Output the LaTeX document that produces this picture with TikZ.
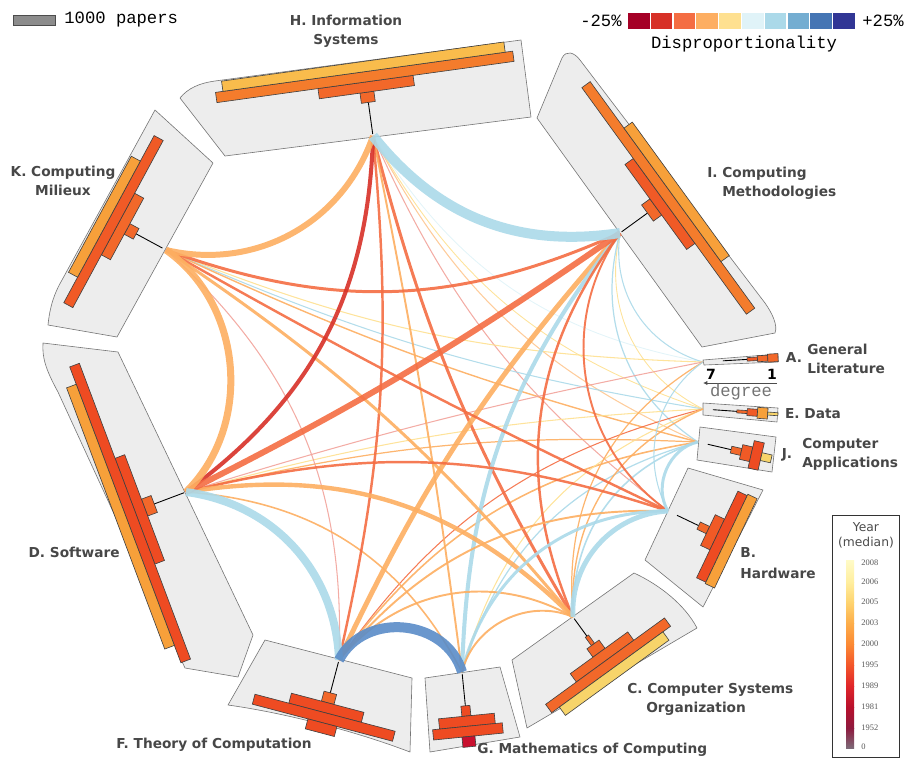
\documentclass[tikz,border=0pt]{standalone}
\usepackage{fontspec}
\setmainfont{DejaVu Sans}
\newfontfamily\ttlegend{Liberation Mono}
\newfontfamily\yrfont{Liberation Serif}
\usetikzlibrary{arrows.meta}

% panel + text colours
\definecolor{panelgray}{HTML}{EDEDED}
\definecolor{panelline}{HTML}{767676}
\definecolor{titlegray}{HTML}{474747}
% disproportionality scale
\definecolor{dA}{HTML}{A50026}
\definecolor{dB}{HTML}{D73027}
\definecolor{dC}{HTML}{F46D43}
\definecolor{dD}{HTML}{FDAE61}
\definecolor{dE}{HTML}{FEE090}
\definecolor{dF}{HTML}{E0F3F8}
\definecolor{dG}{HTML}{ABD9E9}
\definecolor{dH}{HTML}{74ADD1}
\definecolor{dI}{HTML}{4575B4}
\definecolor{dJ}{HTML}{313695}
\definecolor{dDeep}{HTML}{5A8CC8}
\definecolor{dPink}{HTML}{F2A39B}
% median year of the bars
\definecolor{yr08}{HTML}{F7D46A}
\definecolor{yr05}{HTML}{F9BC4C}
\definecolor{yr03}{HTML}{F7A03A}
\definecolor{yr00}{HTML}{F47C2C}
\definecolor{yr97}{HTML}{F2682A}
\definecolor{yr96}{HTML}{F05A26}
\definecolor{yr95}{HTML}{EE4B22}
\definecolor{yr81}{HTML}{C8102E}
% year legend stops
\definecolor{gA}{HTML}{FFFBC8}
\definecolor{gB}{HTML}{FFEE9E}
\definecolor{gC}{HTML}{FED470}
\definecolor{gD}{HTML}{FDAE4A}
\definecolor{gE}{HTML}{FC8A34}
\definecolor{gF}{HTML}{F3562A}
\definecolor{gG}{HTML}{E0262A}
\definecolor{gH}{HTML}{B8102C}
\definecolor{gI}{HTML}{8E1A3E}
\definecolor{gJ}{HTML}{7D6A78}

% one histogram bar: degree, papers (px), colour
\newcommand{\degbar}[3]{%
  \filldraw[bar, fill=#3] ({70-(#1-1)*10.3-5.15},{-0.5*(#2)}) rectangle ++(10.3,#2);}

\begin{document}
\begin{tikzpicture}[
    x=0.02cm, y=-0.02cm,
    panel/.style={
        fill=panelgray,
        draw=panelline,
        line width=0.35pt,
        line join=round
    },
    bar/.style={
        draw=black!75,
        line width=0.35pt
    },
    stem/.style={
        draw=black,
        line width=0.5pt
    },
    link/.style={
        draw opacity=0.9,
        line cap=butt
    },
    title/.style={
        font=\fontsize{7.8}{10.8}\selectfont\bfseries,
        text=titlegray,
        align=center,
        inner sep=0pt
    },
    mono/.style={
        font=\ttlegend\fontsize{9.8}{11}\selectfont,
        inner sep=0pt
    },
    yeartick/.style={
        font=\yrfont\fontsize{4.8}{5}\selectfont,
        text=black!65,
        anchor=west,
        inner sep=0pt
    }
]
\useasboundingbox (0,0) rectangle (910,762);

% hubs on the ring
\coordinate (H) at (373,136);
\coordinate (I) at (620,233);
\coordinate (A) at (703,362);
\coordinate (E) at (703,409);
\coordinate (J) at (698,442);
\coordinate (B) at (668,511);
\coordinate (C) at (573,617);
\coordinate (G) at (462,672);
\coordinate (F) at (339,660);
\coordinate (D) at (186,492);
\coordinate (K) at (166,250);

% panels
\draw[panel] (225,156) -- (180,98) .. controls (188,88) and (200,83) .. (215,81)
    -- (521,40) -- (531,117) -- cycle;
\draw[panel] (537,118) -- (562,58) .. controls (566,50) and (574,52) .. (580,60)
    -- (765,303) .. controls (772,313) and (778,325) .. (775,333) -- (702,347) -- cycle;
\draw[panel] (155,110) -- (213,163) -- (117,337) -- (48,325)
    .. controls (50,305) and (55,292) .. (62,280) -- cycle;
\draw[panel] (43,343) -- (118,352) -- (253,635) -- (238,677) -- (185,668)
    -- (58,392) .. controls (46,370) and (42,358) .. cycle;
\draw[panel] (265,640) -- (412,678) -- (410,752)
    .. controls (355,731) and (285,713) .. (228,705) -- cycle;
\draw[panel] (425,678) -- (500,667) -- (520,737) -- (430,752) -- cycle;
\draw[panel] (512,660) -- (634,573) .. controls (660,585) and (685,605) .. (697,628)
    -- (527,728) -- cycle;
\draw[panel] (688,468) -- (763,490) -- (703,607) -- (645,560) -- cycle;
\draw[panel] (700,427) -- (776,437) -- (772,472) -- (697,460) -- cycle;
\draw[panel] (703,403) -- (778,408) -- (777,422) -- (703,415) -- cycle;
\draw[panel] (703,360) -- (778,354) -- (778,362) -- (704,365) -- cycle;

% faint links
\draw[link, dD!70, line width=0.6pt] (H) to[bend right=19] (J);
\draw[link, dE, line width=0.5pt] (H) to[bend right=21] (E);
\draw[link, dF, line width=0.5pt] (H) to[bend right=24] (A);
\draw[link, dPink, line width=0.6pt] (H) to[bend right=14] (B);
\draw[link, dG, line width=0.6pt] (I) to[bend right=41] (A);
\draw[link, dE, line width=0.5pt] (I) to[bend right=38] (E);
\draw[link, dG, line width=0.7pt] (I) to[bend right=36] (J);
\draw[link, dE, line width=0.6pt] (K) to[bend right=10] (A);
\draw[link, dG, line width=0.6pt] (K) to[bend right=7] (E);
\draw[link, dD, line width=0.8pt] (K) to[bend right=5] (J);
\draw[link, dD, line width=0.7pt] (J) to[bend right=8] (D);
\draw[link, dE, line width=0.6pt] (E) to[bend right=6] (D);
\draw[link, dPink, line width=0.6pt] (A) to[bend right=3] (D);
\draw[link, dPink, line width=0.6pt] (F) to[bend right=25] (K);
\draw[link, dC, line width=0.6pt] (E) to[bend right=20] (F);
\draw[link, dD, line width=0.9pt] (J) to[bend right=22] (F);
\draw[link, dG, line width=0.7pt] (J) to[bend right=29] (G);
\draw[link, dE, line width=0.6pt] (E) to[bend right=27] (G);
\draw[link, dD, line width=0.7pt] (A) to[bend right=32] (C);
\draw[link, dD, line width=0.8pt] (E) to[bend right=35] (C);
\draw[link, dG, line width=0.9pt] (J) to[bend right=37] (C);
\draw[link, dG, line width=0.6pt] (A) to[bend right=41] (B);
\draw[link, dD, line width=0.9pt] (G) to[bend right=29] (D);

% medium links
\draw[link, dC, line width=1.7pt] (H) to[bend right=8] (C);
\draw[link, dD, line width=1.1pt] (G) to[bend right=2] (H);
\draw[link, dC, line width=1.4pt] (F) to[bend right=9] (H);
\draw[link, dC, line width=1.7pt] (K) to[bend right=22] (I);
\draw[link, dD, line width=2.8pt] (I) to[bend right=8] (F);
\draw[link, dG, line width=2.3pt] (I) to[bend right=18] (G);
\draw[link, dC, line width=1.4pt] (I) to[bend right=30] (C);
\draw[link, dC, line width=1.1pt] (I) to[bend right=45] (B);
\draw[link, dC, line width=1.4pt] (K) to[bend right=2] (B);
\draw[link, dD, line width=1.7pt] (C) to[bend right=8] (K);
\draw[link, dC, line width=1.4pt] (B) to[bend right=16] (D);
\draw[link, dD, line width=2.5pt] (C) to[bend right=27] (D);
\draw[link, dD, line width=1.1pt] (B) to[bend right=26] (F);
\draw[link, dD, line width=1.1pt] (C) to[bend right=40] (F);
\draw[link, dG, line width=1.7pt] (B) to[bend right=38] (G);
\draw[link, dD, line width=1.1pt] (C) to[bend right=50] (G);
\draw[link, dG, line width=1.7pt] (J) to[bend right=55] (B);

% heavy links
\draw[link, dB, line width=2.3pt] (D) to[bend right=26] (H);
\draw[link, dC, line width=3.4pt] (D) to[bend right=4] (I);
\draw[link, dD, line width=3.4pt] (K) to[bend right=42] (H);
\draw[link, dD, line width=4pt] (D) to[bend right=50] (K);
\draw[link, dG, line width=5.7pt] (H) to[bend right=30] (I);
\draw[link, dG, line width=4.5pt] (F) to[bend right=40] (D);
\draw[link, dG, line width=2.8pt] (B) to[bend right=45] (C);
\draw[link, dDeep, line width=5.7pt] (G) to[bend right=68, looseness=1.15] (F);

% histograms, degree 1 outermost
\begin{scope}[shift={(H)}, rotate=97.9]
  \draw[stem] (2,0) -- (34,0);
  \degbar{4}{14}{yr97}
  \degbar{3}{96}{yr97}
  \degbar{2}{300}{yr00}
  \degbar{1}{285}{yr05}
\end{scope}
\begin{scope}[shift={(I)}, rotate=36]
  \draw[stem] (2,0) -- (34,0);
  \degbar{4}{20}{yr97}
  \degbar{3}{105}{yr96}
  \degbar{2}{280}{yr00}
  \degbar{1}{165}{yr03}
\end{scope}
\begin{scope}[shift={(K)}, rotate=151.6]
  \draw[stem] (4,0) -- (34,0);
  \degbar{4}{12}{yr97}
  \degbar{3}{70}{yr97}
  \degbar{2}{190}{yr96}
  \degbar{1}{132}{yr03}
\end{scope}
\begin{scope}[shift={(D)}, rotate=200.6]
  \draw[stem] (2,0) -- (34,0);
  \degbar{4}{18}{yr97}
  \degbar{3}{113}{yr95}
  \degbar{2}{316}{yr95}
  \degbar{1}{279}{yr03}
\end{scope}
\begin{scope}[shift={(F)}, rotate=255.2]
  \draw[stem] (2,0) -- (34,0);
  \degbar{4}{13}{yr97}
  \degbar{3}{75}{yr95}
  \degbar{2}{145}{yr95}
  \degbar{1}{30}{yr95}
\end{scope}
\begin{scope}[shift={(G)}, rotate=-84.3]
  \draw[stem] (2,0) -- (34,0);
  \degbar{4}{9}{yr95}
  \degbar{3}{56}{yr95}
  \degbar{2}{70}{yr95}
  \degbar{1}{13}{yr81}
\end{scope}
\begin{scope}[shift={(C)}, rotate=-54]
  \draw[stem] (2,0) -- (24,0);
  \degbar{5}{4}{yr97}
  \degbar{4}{15}{yr97}
  \degbar{3}{71}{yr97}
  \degbar{2}{147}{yr97}
  \degbar{1}{128}{yr08}
\end{scope}
\begin{scope}[shift={(B)}, rotate=-25.5]
  \draw[stem] (10,0) -- (34,0);
  \degbar{4}{8}{yr97}
  \degbar{3}{34}{yr96}
  \degbar{2}{96}{yr95}
  \degbar{1}{99}{yr03}
\end{scope}
\begin{scope}[shift={(J)}, rotate=-13]
  \draw[stem] (10,0) -- (34,0);
  \degbar{4}{7}{yr97}
  \degbar{3}{15}{yr96}
  \degbar{2}{28}{yr95}
  \degbar{1}{8}{yr08}
\end{scope}
\begin{scope}[shift={(E)}, rotate=-4]
  \draw[stem] (10,0) -- (34,0);
  \degbar{4}{3}{yr97}
  \degbar{3}{7}{yr96}
  \degbar{2}{11}{yr03}
  \degbar{1}{3}{yr08}
\end{scope}
\begin{scope}[shift={(A)}, rotate=3.4]
  \draw[stem] (20,0) -- (44,0);
  \degbar{3}{3.5}{yr96}
  \degbar{2}{6}{yr97}
  \degbar{1}{8}{yr97}
\end{scope}

% panel titles
\node[title] (labH) at (346,31) {H. Information\\Systems};
\node[title, anchor=west, align=left] (labI) at (707,183)
    {I. Computing\\\hspace*{8.5pt}Methodologies};
\node[title] (labK) at (63,181) {K. Computing\\Milieux};
\node[title] (labAkey) at (794,357) {A.};
\node[title, anchor=west, align=left] (labA) at (807,359) {General\\Literature};
\node[title] (labE) at (813,414) {E. Data};
\node[title] (labJkey) at (787,455) {J.};
\node[title, anchor=west, align=left] (labJ) at (802,454) {Computer\\Applications};
\node[title, anchor=west, align=left, font=\fontsize{7.8}{12.4}\selectfont\bfseries] (labB)
    at (740,563) {B.\\Hardware};
\node[title, anchor=west, align=left] (labC) at (627,699)
    {C. Computer Systems\\\hspace*{10.8pt}Organization};
\node[title, anchor=west] (labG) at (477,750) {G. Mathematics of Computing};
\node[title, anchor=east] (labF) at (312,745) {F. Theory of Computation};
\node[title, anchor=east] (labD) at (120,552) {D. Software};

% degree axis under A
\coordinate (degL) at (703,383);
\coordinate (degR) at (777,383);
\draw[black!70, line width=0.5pt, -{Latex[length=2.5pt, width=2.5pt]}] (degR) -- (degL);
\node[font=\fontsize{8}{9}\selectfont\bfseries, inner sep=0pt] (deg7) at (711,374) {7};
\node[font=\fontsize{8}{9}\selectfont\bfseries, inner sep=0pt] (deg1) at (772,374) {1};
\node[mono, text=black!55] (degtxt) at (741,392) {degree};

% size key
\filldraw[fill=black!45, draw=black!70, line width=0.4pt] (13,15) rectangle (55,25);
\node[mono, anchor=west] (papers) at (64,20) {1000 papers};

% disproportionality key
\node[mono, anchor=east] (minus) at (622,21) {-25\%};
\foreach \c [count=\i from 0] in {dA,dB,dC,dD,dE,dF,dG,dH,dI,dJ}
    \fill[\c] ({628+22.8*\i},13) rectangle ++(21.5,16);
\node[mono, anchor=west] (plus) at (862,21) {+25\%};
\node[mono] (disp) at (744,44) {Disproportionality};

% year key
\draw[black!80, line width=0.5pt, fill=white] (832,515) rectangle (899,757);
\node[font=\fontsize{7}{8}\selectfont, text=black!70, inner sep=0pt] (yr) at (866,527) {Year};
\node[font=\fontsize{7}{8}\selectfont, text=black!70, inner sep=0pt] (med) at (866,543) {(median)};
\foreach \ya/\yb/\ca/\cb in {560/582/gA/gB, 582/602/gB/gC, 602/623/gC/gD,
        623/644/gD/gE, 644/665/gE/gF, 665/686/gF/gG, 686/707/gG/gH,
        707/728/gH/gI, 728/748/gI/gJ}
    \shade[top color=\ca, bottom color=\cb] (846,\ya) rectangle (854,\yb);
\foreach \yy/\lab in {563/2008, 582/2006, 602/2005, 623/2003, 644/2000,
        665/1995, 686/1989, 707/1981, 728/1952, 747/0}
    \node[yeartick] at (861,\yy) {\lab};

\end{tikzpicture}
\end{document}
